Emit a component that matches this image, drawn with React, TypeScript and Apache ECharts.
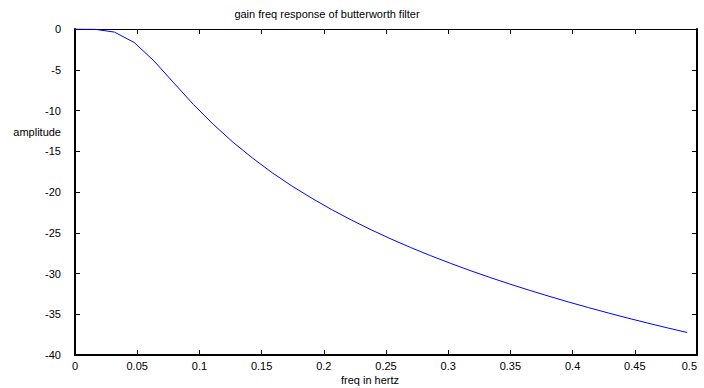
import React, { useEffect, useRef } from "react";
import * as echarts from "echarts";

const freq = [
  0, 0.0159, 0.0317, 0.0476, 0.0635, 0.0794, 0.0952, 0.1111, 0.127, 0.1429,
  0.1587, 0.1746, 0.1905, 0.2063, 0.2222, 0.2381, 0.254, 0.2698, 0.2857,
  0.3016, 0.3175, 0.3333, 0.3492, 0.3651, 0.381, 0.3968, 0.4127, 0.4286,
  0.4444, 0.4603, 0.4762, 0.4921,
];
const amplitude = [
  0, -0.03, -0.38, -1.66, -3.92, -6.61, -9.26, -11.69, -13.89, -15.86,
  -17.66, -19.29, -20.78, -22.16, -23.44, -24.64, -25.76, -26.81, -27.8,
  -28.74, -29.63, -30.47, -31.28, -32.05, -32.79, -33.5, -34.18, -34.84,
  -35.47, -36.08, -36.67, -37.24,
];

const titleText = "gain freq response of butterworth filter";
const xName = "freq in hertz";
const yName = "amplitude";

const FONT = "Liberation Sans, Arial, sans-serif";

export default function App() {
  const ref = useRef<HTMLDivElement>(null);
  useEffect(() => {
    if (!ref.current) return;
    const chart = echarts.init(ref.current, null, { renderer: "svg" });
    const data = freq.map((f, i) => [f, amplitude[i]]);
    const grid = {
      left: 75,
      right: 7,
      top: 29,
      bottom: 33,
      containLabel: false,
      outerBoundsMode: "none",
    };
    const baseX = {
      type: "value",
      min: 0,
      max: 0.5,
      interval: 0.05,
      splitLine: { show: false },
    };
    const baseY = {
      type: "value",
      min: -40,
      max: 0,
      interval: 5,
      splitLine: { show: false },
    };
    chart.setOption({
      animation: false,
      backgroundColor: "#ffffff",
      grid,
      xAxis: [
        {
          ...baseX,
          position: "bottom",
          axisLine: { show: true, onZero: false, lineStyle: { color: "#000", width: 2 } },
          axisTick: { show: true, inside: true, length: 5, lineStyle: { color: "#000", width: 1 } },
          axisLabel: {
            color: "#000",
            fontSize: 11,
            fontFamily: FONT,
            margin: 5,
            alignMaxLabel: "right",
          },
        },
        {
          ...baseX,
          position: "top",
          axisLine: { show: true, onZero: false, lineStyle: { color: "#000", width: 1 } },
          axisTick: { show: true, inside: true, length: 5, lineStyle: { color: "#000", width: 1 } },
          axisLabel: { show: false },
        },
      ],
      yAxis: [
        {
          ...baseY,
          position: "left",
          axisLine: { show: true, onZero: false, lineStyle: { color: "#000", width: 2 } },
          axisTick: { show: true, inside: true, length: 5, lineStyle: { color: "#000", width: 1 } },
          axisLabel: { color: "#000", fontSize: 11, fontFamily: FONT, margin: 14 },
        },
        {
          ...baseY,
          position: "right",
          axisLine: { show: true, onZero: false, lineStyle: { color: "#000", width: 2 } },
          axisTick: { show: true, inside: true, length: 5, lineStyle: { color: "#000", width: 1 } },
          axisLabel: { show: false },
        },
      ],
      graphic: [
        {
          type: "text",
          x: 327,
          y: 14,
          style: {
            text: titleText,
            fill: "#000",
            font: `11px ${FONT}`,
            align: "center",
            verticalAlign: "middle",
          },
        },
        {
          type: "text",
          x: 370,
          y: 380,
          style: {
            text: xName,
            fill: "#000",
            font: `11px ${FONT}`,
            align: "center",
            verticalAlign: "middle",
          },
        },
        {
          type: "text",
          x: 61,
          y: 132,
          style: {
            text: yName,
            fill: "#000",
            font: `11px ${FONT}`,
            align: "right",
            verticalAlign: "middle",
          },
        },
      ],
      series: [
        {
          type: "line",
          xAxisIndex: 0,
          yAxisIndex: 0,
          data,
          showSymbol: false,
          symbol: "none",
          lineStyle: { color: "#0000ff", width: 1 },
          silent: true,
        },
      ],
    });
    return () => chart.dispose();
  }, []);
  return (
    <div
      ref={ref}
      style={{ position: "fixed", left: 0, top: 0, width: 704, height: 388, background: "#fff" }}
    />
  );
}
